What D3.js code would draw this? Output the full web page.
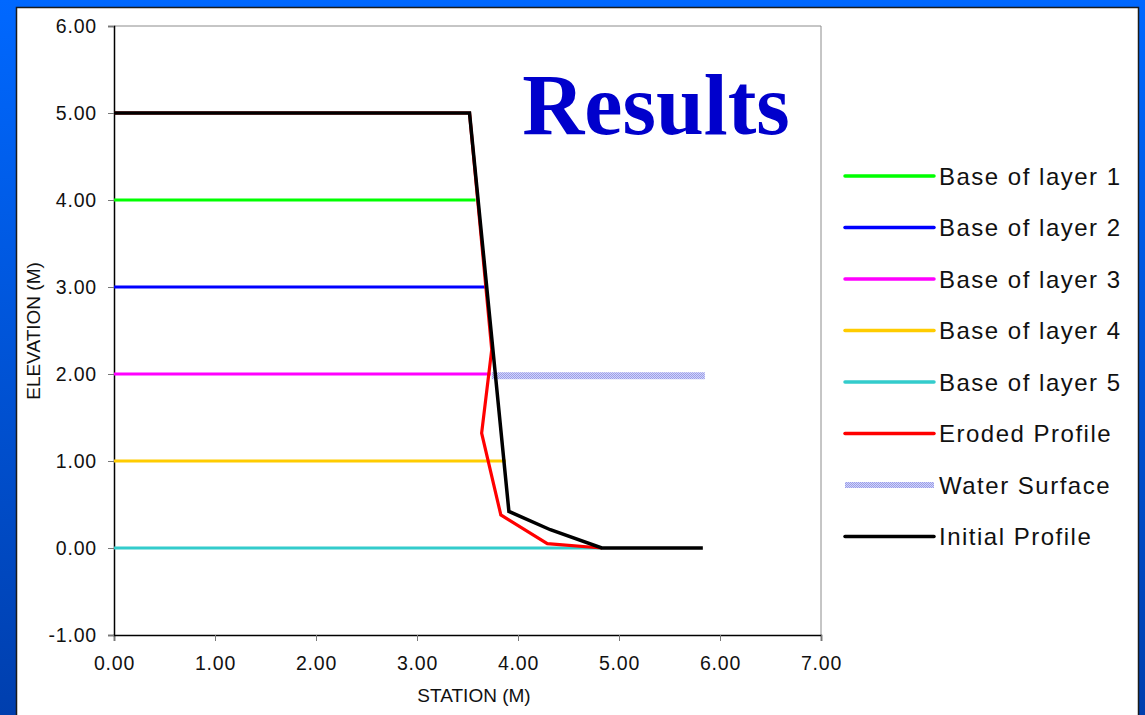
<!DOCTYPE html>
<html>
<head>
<meta charset="utf-8">
<title>Results</title>
<script src="https://d3js.org/d3.v7.min.js"></script>
<style>
  html, body { margin: 0; padding: 0; }
  body { width: 1145px; height: 715px; overflow: hidden; }
</style>
</head>
<body>
<div id="chart"></div>
<script>
// data
var stationTicks = [0, 1, 2, 3, 4, 5, 6, 7];
var elevTicks = [-1, 0, 1, 2, 3, 4, 5, 6];

var seriesNames = ["Base of layer 1", "Base of layer 2", "Base of layer 3", "Base of layer 4",
                   "Base of layer 5", "Eroded Profile", "Water Surface", "Initial Profile"];

var layer1 = [[0, 4], [3.58, 4]];
var layer2 = [[0, 3], [3.70, 3]];
var layer3 = [[0, 2], [3.73, 2]];
var layer4 = [[0, 1], [3.88, 1]];
var layer5 = [[0, 0], [4.83, 0]];
var eroded = [[0, 5], [3.52, 5], [3.74, 2.28], [3.64, 1.32], [3.83, 0.38], [4.29, 0.05], [4.83, 0]];
var waterSurface = [[3.74, 1.98], [5.85, 1.98]];
var initialProfile = [[0, 5], [3.52, 5], [3.91, 0.42], [4.32, 0.21], [4.83, 0], [5.83, 0]];

var seriesData = [layer1, layer2, layer3, layer4, layer5, eroded, waterSurface, initialProfile];
var colors = ["#00ff00", "#0000ff", "#ff00ff", "#ffcc00", "#33cccc", "#ff0000", "#b0b4f4", "#000000"];

var W = 1145, H = 715;
var plot = {left: 114, right: 821, top: 26, bottom: 635};

var svg = d3.select("#chart").append("svg")
    .attr("width", W)
    .attr("height", H);

// blue slide background
var defs = svg.append("defs");
var grad = defs.append("linearGradient")
    .attr("id", "bg").attr("x1", 0).attr("y1", 0).attr("x2", 0).attr("y2", 1);
grad.append("stop").attr("offset", "0%").attr("stop-color", "#0068ff");
grad.append("stop").attr("offset", "100%").attr("stop-color", "#003fae");

// checkered fill for the water surface
var pat = defs.append("pattern")
    .attr("id", "water").attr("width", 2).attr("height", 2)
    .attr("patternUnits", "userSpaceOnUse");
pat.append("rect").attr("width", 2).attr("height", 2).attr("fill", "#d2d4fa");
pat.append("rect").attr("width", 1).attr("height", 1).attr("fill", "#9a9ee8");
pat.append("rect").attr("x", 1).attr("y", 1).attr("width", 1).attr("height", 1).attr("fill", "#9a9ee8");

svg.append("rect").attr("width", W).attr("height", H).attr("fill", "url(#bg)");
svg.append("rect")
    .attr("x", 16.5).attr("y", 7.5)
    .attr("width", 1122).attr("height", 740)
    .attr("fill", "#fff")
    .attr("stroke", "#1a1a1a").attr("stroke-width", 1.5);

var x = d3.scaleLinear().domain([0, 7]).range([plot.left, plot.right]);
var y = d3.scaleLinear().domain([-1, 6]).range([plot.bottom, plot.top]);

// plot frame (top/right grey)
svg.append("path")
    .attr("d", "M" + x(0) + "," + y(6) + "H" + x(7) + "V" + y(-1))
    .attr("fill", "none").attr("stroke", "#8c8c8c").attr("stroke-width", 1);

var fmt = function(d) { return d.toFixed(2); };
var labelFont = "'Liberation Sans', Arial, sans-serif";

var xAxis = svg.append("g")
    .attr("transform", "translate(0," + y(-1) + ")")
    .call(d3.axisBottom(x).tickValues(stationTicks).tickFormat(fmt).tickSize(6).tickPadding(15));
var yAxis = svg.append("g")
    .attr("transform", "translate(" + x(0) + ",0)")
    .call(d3.axisLeft(y).tickValues(elevTicks).tickFormat(fmt).tickSize(6).tickPadding(11));

[xAxis, yAxis].forEach(function(a) {
  a.select(".domain").attr("stroke", "#000").attr("stroke-width", 1.5);
  a.selectAll(".tick line").attr("stroke", "#777");
  a.selectAll(".tick text")
    .attr("fill", "#111")
    .style("font-family", labelFont)
    .style("font-size", "19.5px")
    .style("letter-spacing", "0.8px");
});
yAxis.selectAll(".tick text").attr("dy", "0.35em");

// axis titles
svg.append("text")
    .attr("x", 474).attr("y", 702)
    .attr("text-anchor", "middle")
    .style("font-family", labelFont).style("font-size", "19px")
    .attr("fill", "#111")
    .text("STATION (M)");
svg.append("text")
    .attr("transform", "translate(40," + 331 + ") rotate(-90)")
    .attr("text-anchor", "middle")
    .style("font-family", labelFont).style("font-size", "19px")
    .attr("fill", "#111")
    .text("ELEVATION (M)");

// series lines
var line = d3.line()
    .x(function(d) { return x(d[0]); })
    .y(function(d) { return y(d[1]); });

var drawOrder = [0, 1, 2, 3, 4, 6, 5, 7];
drawOrder.forEach(function(i) {
  if (seriesNames[i] === "Water Surface") {
    var p0 = seriesData[i][0], p1 = seriesData[i][seriesData[i].length - 1];
    svg.append("rect")
      .attr("x", x(p0[0])).attr("y", y(p0[1]) - 3.5)
      .attr("width", x(p1[0]) - x(p0[0])).attr("height", 7)
      .attr("fill", "url(#water)");
  } else {
    svg.append("path")
      .datum(seriesData[i])
      .attr("d", line)
      .attr("fill", "none")
      .attr("stroke", colors[i])
      .attr("stroke-width", seriesNames[i] === "Initial Profile" ? 3.5 : 3.2)
      .attr("stroke-linejoin", "miter");
  }
});

// title
svg.append("text")
    .attr("x", 656).attr("y", 134)
    .attr("text-anchor", "middle")
    .style("font-family", "'Liberation Serif', 'Times New Roman', serif")
    .style("font-weight", "bold")
    .style("font-size", "86px")
    .attr("fill", "#0000cc")
    .text("Results");

// legend
var legend = svg.append("g");
seriesNames.forEach(function(name, i) {
  var ly = 176 + i * 51.5;
  if (name === "Water Surface") {
    legend.append("rect")
      .attr("x", 845).attr("y", ly - 3).attr("width", 89).attr("height", 6)
      .attr("fill", "url(#water)");
  } else {
    legend.append("line")
      .attr("x1", 845).attr("x2", 934).attr("y1", ly).attr("y2", ly)
      .attr("stroke", colors[i]).attr("stroke-width", 3.5)
      .attr("stroke-linecap", "round");
  }
  legend.append("text")
    .attr("x", 939).attr("y", ly + 8.5)
    .style("font-family", labelFont).style("font-size", "24px").style("letter-spacing", "1.5px")
    .attr("fill", "#111")
    .text(name);
});
</script>
</body>
</html>
